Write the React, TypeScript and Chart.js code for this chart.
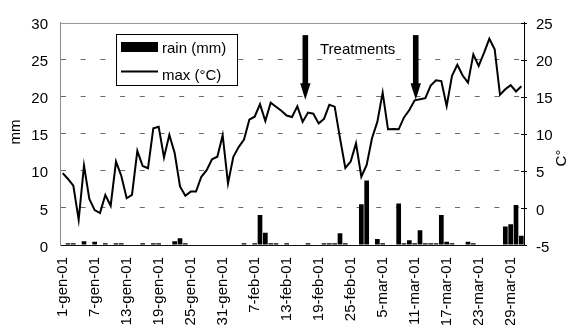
import React, { useEffect, useRef } from "react";
import { Chart, registerables } from "chart.js";

Chart.register(...registerables);

const FONT_FAMILY = '"Liberation Sans", Arial, sans-serif';

// Categories (dates present in the data set)
const DATES = [
  "1-gen-01", "2-gen-01", "3-gen-01", "4-gen-01", "5-gen-01", "6-gen-01", "7-gen-01", "8-gen-01", "9-gen-01", "10-gen-01",
  "11-gen-01", "12-gen-01", "13-gen-01", "14-gen-01", "15-gen-01", "16-gen-01", "17-gen-01", "18-gen-01", "19-gen-01", "20-gen-01",
  "21-gen-01", "22-gen-01", "23-gen-01", "24-gen-01", "25-gen-01", "26-gen-01", "27-gen-01", "28-gen-01", "29-gen-01", "30-gen-01",
  "31-gen-01", "1-feb-01", "2-feb-01", "3-feb-01", "5-feb-01", "6-feb-01", "7-feb-01", "8-feb-01", "9-feb-01", "10-feb-01",
  "11-feb-01", "12-feb-01", "13-feb-01", "14-feb-01", "15-feb-01", "16-feb-01", "17-feb-01", "18-feb-01", "19-feb-01", "20-feb-01",
  "21-feb-01", "22-feb-01", "23-feb-01", "24-feb-01", "25-feb-01", "26-feb-01", "28-feb-01", "1-mar-01", "2-mar-01", "4-mar-01",
  "5-mar-01", "6-mar-01", "7-mar-01", "8-mar-01", "9-mar-01", "10-mar-01", "11-mar-01", "12-mar-01", "13-mar-01", "14-mar-01",
  "15-mar-01", "16-mar-01", "17-mar-01", "18-mar-01", "19-mar-01", "20-mar-01", "21-mar-01", "22-mar-01", "23-mar-01", "24-mar-01",
  "25-mar-01", "26-mar-01", "27-mar-01", "28-mar-01", "29-mar-01", "30-mar-01", "31-mar-01",
];

// Daily rain (mm), left axis
const RAIN = [
  0, 0.25, 0.25, 0, 0.5, 0, 0.45, 0, 0.25, 0,
  0.25, 0.25, 0, 0, 0, 0.25, 0, 0.25, 0.25, 0,
  0, 0.5, 0.9, 0.25, 0, 0, 0, 0, 0, 0,
  0, 0, 0, 0, 0.25, 0, 0.25, 4.05, 1.65, 0.25,
  0.25, 0, 0.25, 0, 0, 0, 0.25, 0, 0, 0.25,
  0.25, 0.25, 1.6, 0.25, 0, 0, 5.5, 8.7, 0, 0.8,
  0.25, 0, 0, 5.6, 0.25, 0.65, 0.25, 2.0, 0.25, 0.25,
  0.25, 4.05, 0.45, 0.25, 0, 0, 0.45, 0.25, 0, 0,
  0, 0, 0, 2.5, 2.8, 5.4, 1.25,
];

// Daily max temperature (°C), right axis
const TMAX = [
  4.7, 3.9, 3.0, -1.6, 5.7, 1.2, -0.3, -0.7, 1.75, 0.3,
  6.25, 4.3, 1.3, 1.75, 7.7, 5.65, 5.35, 10.75, 10.95, 6.8,
  9.85, 7.4, 2.9, 1.65, 2.2, 2.2, 4.2, 5.1, 6.55, 6.9,
  9.8, 3.3, 6.9, 8.2, 9.2, 11.9, 12.3, 14.0, 11.7, 14.2,
  13.65, 13.1, 12.45, 12.25, 13.7, 11.6, 12.85, 12.7, 11.4, 12.0,
  13.9, 13.65, 9.4, 5.4, 6.25, 8.7, 4.2, 5.8, 9.4, 11.6,
  15.55, 10.6, 10.65, 10.6, 12.2, 13.2, 14.5, 14.65, 14.8, 16.5,
  17.2, 17.1, 13.75, 17.8, 19.3, 17.85, 16.9, 20.7, 19.15, 20.9,
  22.8, 21.4, 15.25, 16.0, 16.55, 15.7, 16.4,
];

const LABEL_EVERY = 6;
const MM_RANGE = [0, 30];
const C_RANGE = [-5, 25];
const TICK_STEP = 5;

// Treatment arrows (category position, and mm values for top / head / tip)
const TREATMENT_POS = [45.5, 66.2];
const ARROW_TOP_MM = 28.3;
const ARROW_HEAD_MM = 21.8;
const ARROW_TIP_MM = 19.6;
const TREATMENT_LABEL = "Treatments";

const LEGEND_RAIN = "rain (mm)";
const LEGEND_MAX = "max (°C)";
const TITLE_LEFT = "mm";
const TITLE_RIGHT = "C°";

const overlayPlugin = {
  id: "overlay",
  afterDraw(chart: any) {
    const { ctx, chartArea: ca, scales } = chart;
    const xs = scales.x;
    const ys = scales.y;
    const y1 = scales.y1;
    const font = `15px ${FONT_FAMILY}`;
    ctx.save();

    // top border of plot area
    ctx.strokeStyle = "#9a9a9a";
    ctx.lineWidth = 1;
    ctx.beginPath();
    const ty = Math.round(ca.top) + 0.5;
    ctx.moveTo(ca.left, ty);
    ctx.lineTo(ca.right, ty);
    ctx.stroke();

    // right axis tick marks (cross)
    ctx.strokeStyle = "#000";
    for (let v = C_RANGE[0]; v <= C_RANGE[1]; v += TICK_STEP) {
      const py = Math.round(y1.getPixelForValue(v)) + 0.5;
      ctx.beginPath();
      ctx.moveTo(ca.right - 3, py);
      ctx.lineTo(ca.right + 3, py);
      ctx.stroke();
    }

    // legend box
    const lx = 116, ly = 34, lw = 121, lh = 51;
    ctx.fillStyle = "#fff";
    ctx.fillRect(lx, ly, lw, lh);
    ctx.strokeStyle = "#000";
    ctx.lineWidth = 1;
    ctx.strokeRect(lx + 0.5, ly + 0.5, lw, lh);
    ctx.fillStyle = "#000";
    ctx.fillRect(121, 42, 37, 10);
    ctx.lineWidth = 2;
    ctx.beginPath();
    ctx.moveTo(121, 71.5);
    ctx.lineTo(158, 71.5);
    ctx.stroke();
    ctx.font = font;
    ctx.textAlign = "left";
    ctx.textBaseline = "middle";
    ctx.fillText(LEGEND_RAIN, 162, 49);
    ctx.fillText(LEGEND_MAX, 162, 76);

    // Treatments label
    ctx.fillText(TREATMENT_LABEL, 320, 49.5);

    // arrows
    for (const pos of TREATMENT_POS) {
      const ax = xs.getPixelForValue(pos);
      const top = ys.getPixelForValue(ARROW_TOP_MM);
      const head = ys.getPixelForValue(ARROW_HEAD_MM);
      const tip = ys.getPixelForValue(ARROW_TIP_MM);
      ctx.fillRect(ax - 2.8, top, 5.6, head - top + 1);
      ctx.beginPath();
      ctx.moveTo(ax - 5.2, head);
      ctx.lineTo(ax + 5.2, head);
      ctx.lineTo(ax, tip);
      ctx.closePath();
      ctx.fill();
    }

    // axis titles
    ctx.textAlign = "center";
    ctx.textBaseline = "alphabetic";
    ctx.save();
    ctx.translate(20, 132);
    ctx.rotate(-Math.PI / 2);
    ctx.fillText(TITLE_LEFT, 0, 0);
    ctx.restore();
    ctx.save();
    ctx.translate(566, 158);
    ctx.rotate(-Math.PI / 2);
    ctx.fillText(TITLE_RIGHT, 0, 0);
    ctx.restore();

    ctx.restore();
  },
};

export default function App() {
  const canvasRef = useRef<HTMLCanvasElement | null>(null);

  useEffect(() => {
    if (!canvasRef.current) return;
    const tickFont = { family: FONT_FAMILY, size: 15 };
    const chart = new Chart(canvasRef.current, {
      type: "bar",
      data: {
        labels: DATES,
        datasets: [
          {
            type: "line",
            label: LEGEND_MAX,
            data: TMAX,
            yAxisID: "y1",
            borderColor: "#000",
            borderWidth: 2,
            pointRadius: 0,
            tension: 0,
            fill: false,
          } as any,
          {
            type: "bar",
            label: LEGEND_RAIN,
            data: RAIN,
            yAxisID: "y",
            backgroundColor: "#000",
            borderWidth: 0,
            barPercentage: 0.88,
            categoryPercentage: 1,
          },
        ],
      },
      options: {
        responsive: false,
        animation: false,
        layout: { padding: { top: 22.5, left: 0, right: 0, bottom: 0 } },
        plugins: {
          legend: { display: false },
          tooltip: { enabled: false },
          title: { display: false },
        },
        scales: {
          x: {
            type: "category",
            offset: true,
            grid: { display: false, drawTicks: false },
            border: { display: true, color: "#111", width: 1 },
            ticks: {
              autoSkip: false,
              minRotation: 90,
              maxRotation: 90,
              padding: 12,
              color: "#000",
              font: tickFont,
              callback: (_v: any, i: number) => (i % LABEL_EVERY === 0 ? DATES[i] : ""),
            },
            afterFit: (s: any) => {
              s.height = 80;
            },
          },
          y: {
            position: "left",
            min: MM_RANGE[0],
            max: MM_RANGE[1],
            ticks: { stepSize: TICK_STEP, padding: 12, color: "#000", font: tickFont, labelOffset: 2.5 },
            grid: {
              drawTicks: false,
              lineWidth: 1,
              color: (c: any) =>
                c.tick && (c.tick.value === MM_RANGE[0] || c.tick.value === MM_RANGE[1]) ? "rgba(0,0,0,0)" : "#6a6a6a",
            },
            border: { display: true, color: "#8a8a8a", width: 1, dash: [5, 14.7] },
            afterFit: (s: any) => {
              s.width = 60;
            },
          },
          y1: {
            position: "right",
            min: C_RANGE[0],
            max: C_RANGE[1],
            ticks: { stepSize: TICK_STEP, padding: 12, color: "#000", font: tickFont, labelOffset: 2.5 },
            grid: { display: false, drawTicks: false },
            border: { display: true, color: "#000", width: 1 },
            afterFit: (s: any) => {
              s.width = 43;
            },
          },
        },
      } as any,
      plugins: [overlayPlugin],
    });
    return () => chart.destroy();
  }, []);

  return (
    <div style={{ position: "fixed", left: 0, top: 0, width: 567, height: 325, background: "#fff" }}>
      <canvas ref={canvasRef} width={567} height={325} style={{ display: "block", width: 567, height: 325 }} />
    </div>
  );
}
